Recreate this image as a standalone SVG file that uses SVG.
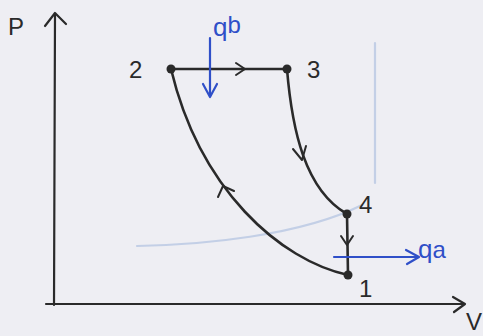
<svg xmlns="http://www.w3.org/2000/svg" width="483" height="336" viewBox="0 0 483 336">
<style>
.ax{fill:none;stroke:#2a2a2a;stroke-width:2.2;stroke-linecap:round;stroke-linejoin:round}
.ln{fill:none;stroke:#2a2a2a;stroke-width:2.6;stroke-linecap:round;stroke-linejoin:round}
.hd{fill:none;stroke:#2a2a2a;stroke-width:2;stroke-linecap:round;stroke-linejoin:round}
.bl{fill:none;stroke:#2f4fc8;stroke-width:2.2;stroke-linecap:round;stroke-linejoin:round}
.faint{fill:none;stroke:#c3cfe6;stroke-width:2.2;stroke-linecap:round}
.dot{fill:#2a2a2a}
.lb{font-family:"Liberation Sans",Arial,sans-serif;font-size:24px;fill:#2a2a2a}
.bt{font-family:"Liberation Sans",Arial,sans-serif;fill:#2f4fc8}
</style>
<rect width="483" height="336" fill="#eeeef3"/>
<g id="background">
<path class="faint" d="M375,43 L375,183"/>
<path class="faint" d="M137,246 C200,245 300,236 362,205"/>
</g>
<g id="axes">
<path class="ax" d="M54,305 L55,14"/>
<path class="ax" d="M45,26 L55,13 L66,24"/>
<path class="ax" d="M46,304 L464,304"/>
<path class="ax" d="M453,297 L465,304 L454,312"/>
<text class="lb" x="8" y="35" font-size="26">P</text>
<text class="lb" x="466" y="330" font-size="17">V</text>
</g>
<g id="connectors">
<path class="ln" d="M171,69 L287,69"/>
<path class="hd" d="M236,63 L245,69 L236,75"/>
<path class="ln" d="M287,69 C292,130 305,190 347,214"/>
<path class="hd" d="M293,149 L302,160 L306,146"/>
<path class="ln" d="M348,275 C280,260 200,190 171,69"/>
<path class="hd" d="M218,197 L223,186 L234,191"/>
<path class="ln" d="M347,214 L348,275"/>
<path class="hd" d="M341,236 L347,245 L353,236"/>
</g>
<g id="node-2"><circle class="dot" cx="171" cy="69" r="4.5"/><text class="lb" x="129" y="78">2</text></g>
<g id="node-3"><circle class="dot" cx="287" cy="69" r="4.5"/><text class="lb" x="307" y="78">3</text></g>
<g id="node-4"><circle class="dot" cx="347" cy="214" r="4.5"/><text class="lb" x="359" y="213">4</text></g>
<g id="node-1"><circle class="dot" cx="348" cy="275" r="4.5"/><text class="lb" x="359" y="297">1</text></g>
<g id="heat-qb">
<path class="bl" d="M210,38 L210,96"/>
<path class="bl" d="M203,84 L210,97 L217,84"/>
<text class="bt" x="213" y="36" font-size="26">q<tspan font-size="24" dy="-3">b</tspan></text>
</g>
<g id="heat-qa">
<path class="bl" d="M334,257 L418,257"/>
<path class="bl" d="M406,250 L419,257 L407,264"/>
<text class="bt" x="418" y="258" font-size="26">q<tspan font-size="24">a</tspan></text>
</g>
</svg>
